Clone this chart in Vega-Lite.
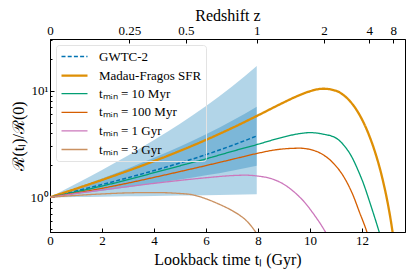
{
  "$schema": "https://vega.github.io/schema/vega-lite/v6.json",
  "width": 355,
  "height": 193,
  "autosize": {"type": "none"},
  "padding": {"left": 50, "top": 39, "right": 10, "bottom": 45},
  "background": "white",
  "datasets": {
    "band": [
      {"t": 0, "olo": 1, "ohi": 1, "ilo": 1, "ihi": 1},
      {"t": 1, "olo": 1.0064, "ohi": 1.3355, "ilo": 1.0718, "ihi": 1.2208},
      {"t": 2, "olo": 1.013, "ohi": 1.8018, "ilo": 1.1515, "ihi": 1.5007},
      {"t": 3, "olo": 1.0201, "ohi": 2.4657, "ilo": 1.2414, "ihi": 1.8631},
      {"t": 4, "olo": 1.0275, "ohi": 3.4345, "ilo": 1.344, "ihi": 2.3414},
      {"t": 5, "olo": 1.0356, "ohi": 4.8933, "ilo": 1.463, "ihi": 2.9887},
      {"t": 6, "olo": 1.0443, "ohi": 7.178, "ilo": 1.6036, "ihi": 3.8922},
      {"t": 7, "olo": 1.0541, "ohi": 10.951, "ilo": 1.7744, "ihi": 5.2087},
      {"t": 7.95, "olo": 1.0644, "ohi": 17.03, "ilo": 1.9725, "ihi": 7.0628}
    ],
    "lines": [
      {"series": "GWTC-2", "t": 0, "r": 1},
      {"series": "GWTC-2", "t": 1, "r": 1.1447},
      {"series": "GWTC-2", "t": 2, "r": 1.3165},
      {"series": "GWTC-2", "t": 3, "r": 1.5241},
      {"series": "GWTC-2", "t": 4, "r": 1.7793},
      {"series": "GWTC-2", "t": 5, "r": 2.0992},
      {"series": "GWTC-2", "t": 6, "r": 2.5105},
      {"series": "GWTC-2", "t": 7, "r": 3.0578},
      {"series": "GWTC-2", "t": 7.95, "r": 3.7578},

      {"series": "Madau-Fragos SFR", "t": 0, "r": 1},
      {"series": "Madau-Fragos SFR", "t": 1, "r": 1.2014},
      {"series": "Madau-Fragos SFR", "t": 2, "r": 1.4524},
      {"series": "Madau-Fragos SFR", "t": 3, "r": 1.771},
      {"series": "Madau-Fragos SFR", "t": 4, "r": 2.1822},
      {"series": "Madau-Fragos SFR", "t": 5, "r": 2.7237},
      {"series": "Madau-Fragos SFR", "t": 6, "r": 3.4529},
      {"series": "Madau-Fragos SFR", "t": 7, "r": 4.4588},
      {"series": "Madau-Fragos SFR", "t": 8, "r": 5.8654},
      {"series": "Madau-Fragos SFR", "t": 9, "r": 7.778},
      {"series": "Madau-Fragos SFR", "t": 9.5, "r": 8.872},
      {"series": "Madau-Fragos SFR", "t": 10, "r": 9.873},
      {"series": "Madau-Fragos SFR", "t": 10.5, "r": 10.42},
      {"series": "Madau-Fragos SFR", "t": 11, "r": 9.97},
      {"series": "Madau-Fragos SFR", "t": 11.25, "r": 9.219},
      {"series": "Madau-Fragos SFR", "t": 11.5, "r": 8.137},
      {"series": "Madau-Fragos SFR", "t": 11.75, "r": 6.804},
      {"series": "Madau-Fragos SFR", "t": 12, "r": 5.347},
      {"series": "Madau-Fragos SFR", "t": 12.25, "r": 3.918},
      {"series": "Madau-Fragos SFR", "t": 12.5, "r": 2.6456},
      {"series": "Madau-Fragos SFR", "t": 12.75, "r": 1.61},
      {"series": "Madau-Fragos SFR", "t": 13, "r": 0.8441},
      {"series": "Madau-Fragos SFR", "t": 13.1, "r": 0.6132},
      {"series": "Madau-Fragos SFR", "t": 13.2, "r": 0.4244},

      {"series": "tₘᵢₙ = 10 Myr", "t": 0, "r": 1},
      {"series": "tₘᵢₙ = 10 Myr", "t": 1, "r": 1.122},
      {"series": "tₘᵢₙ = 10 Myr", "t": 2, "r": 1.274},
      {"series": "tₘᵢₙ = 10 Myr", "t": 3, "r": 1.462},
      {"series": "tₘᵢₙ = 10 Myr", "t": 4, "r": 1.698},
      {"series": "tₘᵢₙ = 10 Myr", "t": 5, "r": 1.972},
      {"series": "tₘᵢₙ = 10 Myr", "t": 6, "r": 2.291},
      {"series": "tₘᵢₙ = 10 Myr", "t": 7, "r": 2.692},
      {"series": "tₘᵢₙ = 10 Myr", "t": 8, "r": 3.141},
      {"series": "tₘᵢₙ = 10 Myr", "t": 8.5, "r": 3.412},
      {"series": "tₘᵢₙ = 10 Myr", "t": 9, "r": 3.681},
      {"series": "tₘᵢₙ = 10 Myr", "t": 9.5, "r": 3.917},
      {"series": "tₘᵢₙ = 10 Myr", "t": 10, "r": 4.036},
      {"series": "tₘᵢₙ = 10 Myr", "t": 10.5, "r": 3.908},
      {"series": "tₘᵢₙ = 10 Myr", "t": 11, "r": 3.589},
      {"series": "tₘᵢₙ = 10 Myr", "t": 11.3, "r": 3.069},
      {"series": "tₘᵢₙ = 10 Myr", "t": 11.6, "r": 2.399},
      {"series": "tₘᵢₙ = 10 Myr", "t": 11.85, "r": 1.778},
      {"series": "tₘᵢₙ = 10 Myr", "t": 12.05, "r": 1.349},
      {"series": "tₘᵢₙ = 10 Myr", "t": 12.3, "r": 0.891},
      {"series": "tₘᵢₙ = 10 Myr", "t": 12.55, "r": 0.575},
      {"series": "tₘᵢₙ = 10 Myr", "t": 12.75, "r": 0.398},

      {"series": "tₘᵢₙ = 100 Myr", "t": 0, "r": 1},
      {"series": "tₘᵢₙ = 100 Myr", "t": 1, "r": 1.096},
      {"series": "tₘᵢₙ = 100 Myr", "t": 2, "r": 1.213},
      {"series": "tₘᵢₙ = 100 Myr", "t": 3, "r": 1.358},
      {"series": "tₘᵢₙ = 100 Myr", "t": 4, "r": 1.535},
      {"series": "tₘᵢₙ = 100 Myr", "t": 5, "r": 1.742},
      {"series": "tₘᵢₙ = 100 Myr", "t": 6, "r": 1.982},
      {"series": "tₘᵢₙ = 100 Myr", "t": 7, "r": 2.265},
      {"series": "tₘᵢₙ = 100 Myr", "t": 8, "r": 2.588},
      {"series": "tₘᵢₙ = 100 Myr", "t": 8.5, "r": 2.742},
      {"series": "tₘᵢₙ = 100 Myr", "t": 9, "r": 2.844},
      {"series": "tₘᵢₙ = 100 Myr", "t": 9.6, "r": 2.884},
      {"series": "tₘᵢₙ = 100 Myr", "t": 10, "r": 2.805},
      {"series": "tₘᵢₙ = 100 Myr", "t": 10.4, "r": 2.588},
      {"series": "tₘᵢₙ = 100 Myr", "t": 10.9, "r": 2.08},
      {"series": "tₘᵢₙ = 100 Myr", "t": 11.3, "r": 1.549},
      {"series": "tₘᵢₙ = 100 Myr", "t": 11.65, "r": 1.047},
      {"series": "tₘᵢₙ = 100 Myr", "t": 11.9, "r": 0.724},
      {"series": "tₘᵢₙ = 100 Myr", "t": 12.15, "r": 0.501},
      {"series": "tₘᵢₙ = 100 Myr", "t": 12.35, "r": 0.355},

      {"series": "tₘᵢₙ = 1 Gyr", "t": 0, "r": 1},
      {"series": "tₘᵢₙ = 1 Gyr", "t": 1, "r": 1.084},
      {"series": "tₘᵢₙ = 1 Gyr", "t": 2, "r": 1.169},
      {"series": "tₘᵢₙ = 1 Gyr", "t": 3, "r": 1.259},
      {"series": "tₘᵢₙ = 1 Gyr", "t": 4, "r": 1.349},
      {"series": "tₘᵢₙ = 1 Gyr", "t": 5, "r": 1.439},
      {"series": "tₘᵢₙ = 1 Gyr", "t": 6, "r": 1.524},
      {"series": "tₘᵢₙ = 1 Gyr", "t": 7, "r": 1.596},
      {"series": "tₘᵢₙ = 1 Gyr", "t": 7.5, "r": 1.611},
      {"series": "tₘᵢₙ = 1 Gyr", "t": 8, "r": 1.578},
      {"series": "tₘᵢₙ = 1 Gyr", "t": 8.5, "r": 1.496},
      {"series": "tₘᵢₙ = 1 Gyr", "t": 9, "r": 1.318},
      {"series": "tₘᵢₙ = 1 Gyr", "t": 9.5, "r": 1.059},
      {"series": "tₘᵢₙ = 1 Gyr", "t": 9.8, "r": 0.891},
      {"series": "tₘᵢₙ = 1 Gyr", "t": 10.1, "r": 0.716},
      {"series": "tₘᵢₙ = 1 Gyr", "t": 10.4, "r": 0.562},
      {"series": "tₘᵢₙ = 1 Gyr", "t": 10.65, "r": 0.447},

      {"series": "tₘᵢₙ = 3 Gyr", "t": 0, "r": 1},
      {"series": "tₘᵢₙ = 3 Gyr", "t": 1, "r": 1.04},
      {"series": "tₘᵢₙ = 3 Gyr", "t": 2, "r": 1.074},
      {"series": "tₘᵢₙ = 3 Gyr", "t": 3, "r": 1.099},
      {"series": "tₘᵢₙ = 3 Gyr", "t": 4, "r": 1.107},
      {"series": "tₘᵢₙ = 3 Gyr", "t": 5, "r": 1.084},
      {"series": "tₘᵢₙ = 3 Gyr", "t": 5.5, "r": 1.052},
      {"series": "tₘᵢₙ = 3 Gyr", "t": 6, "r": 0.966},
      {"series": "tₘᵢₙ = 3 Gyr", "t": 6.5, "r": 0.861},
      {"series": "tₘᵢₙ = 3 Gyr", "t": 7, "r": 0.75},
      {"series": "tₘᵢₙ = 3 Gyr", "t": 7.3, "r": 0.676},
      {"series": "tₘᵢₙ = 3 Gyr", "t": 7.56, "r": 0.6},
      {"series": "tₘᵢₙ = 3 Gyr", "t": 7.8, "r": 0.513},
      {"series": "tₘᵢₙ = 3 Gyr", "t": 8, "r": 0.437}
    ]
  },
  "layer": [
    {
      "data": {"name": "band"},
      "mark": {"type": "area", "color": "#0173b2", "opacity": 0.3, "interpolate": "monotone"},
      "encoding": {
        "x": {"field": "t", "type": "quantitative",
          "scale": {"domain": [0, 13.65], "nice": false, "zero": false},
          "axis": {"orient": "bottom", "values": [0, 2, 4, 6, 8, 10, 12], "format": "d",
            "title": "Lookback time tₗ (Gyr)", "tickSize": -4, "labelPadding": 6,
            "labelFlush": false, "labelOverlap": false, "titleY": 27, "titleBaseline": "middle"}},
        "y": {"field": "olo", "type": "quantitative",
          "scale": {"type": "log", "domain": [0.472, 30.5], "nice": false},
          "axis": {"orient": "left", "values": [1, 10],
            "labelExpr": "datum.value == 1 ? '10⁰' : '10¹'",
            "tickSize": -4, "labelPadding": 6, "title": "ℛ(tₗ)/ℛ(0)",
            "titleX": -32, "titleY": 96.5, "titleBaseline": "middle", "titleAlign": "center"}},
        "y2": {"field": "ohi"}
      }
    },
    {
      "data": {"name": "band"},
      "mark": {"type": "area", "color": "#0173b2", "opacity": 0.3, "interpolate": "monotone"},
      "encoding": {
        "x": {"field": "t", "type": "quantitative",
          "axis": {"orient": "top", "values": [0, 3.05, 5.22, 7.95, 10.54, 12.28, 13.2],
            "labelExpr": "datum.value < 1 ? '0' : datum.value < 4 ? '0.25' : datum.value < 6 ? '0.5' : datum.value < 9 ? '1' : datum.value < 11 ? '2' : datum.value < 12.8 ? '4' : '8'",
            "title": "Redshift z", "tickSize": -4, "labelPadding": 6,
            "labelFlush": false, "labelOverlap": false, "titleY": -24, "titleBaseline": "middle"}},
        "y": {"field": "ilo", "type": "quantitative",
          "axis": {"orient": "left", "values": [0.5, 0.6, 0.7, 0.8, 0.9, 2, 3, 4, 5, 6, 7, 8, 9, 20, 30],
            "labels": false, "tickSize": -2, "title": null, "domain": false}},
        "y2": {"field": "ihi"}
      }
    },
    {
      "data": {"name": "lines"},
      "mark": {"type": "line", "clip": true, "interpolate": "monotone"},
      "encoding": {
        "x": {"field": "t", "type": "quantitative", "axis": null},
        "y": {"field": "r", "type": "quantitative", "axis": null},
        "color": {"field": "series", "type": "nominal",
          "scale": {"domain": ["GWTC-2", "Madau-Fragos SFR", "tₘᵢₙ = 10 Myr", "tₘᵢₙ = 100 Myr", "tₘᵢₙ = 1 Gyr", "tₘᵢₙ = 3 Gyr"],
            "range": ["#0173b2", "#de8f05", "#029e73", "#d55e00", "#cc78bc", "#ca9161"]},
          "legend": {"orient": "none", "legendX": 6, "legendY": 6, "title": null,
            "labelFont": "Liberation Serif", "labelFontSize": 13, "labelFontWeight": "normal", "labelColor": "black",
            "symbolType": "M-2,0L2,0", "symbolSize": 169, "symbolOffset": 6.5,
            "labelOffset": 16.5, "rowPadding": 3.6, "padding": 4}},
        "strokeDash": {"field": "series", "type": "nominal",
          "scale": {"domain": ["GWTC-2", "Madau-Fragos SFR", "tₘᵢₙ = 10 Myr", "tₘᵢₙ = 100 Myr", "tₘᵢₙ = 1 Gyr", "tₘᵢₙ = 3 Gyr"],
            "range": [[4, 2.2], [1, 0], [1, 0], [1, 0], [1, 0], [1, 0]]}},
        "strokeWidth": {"field": "series", "type": "nominal",
          "scale": {"type": "ordinal", "domain": ["GWTC-2", "Madau-Fragos SFR", "tₘᵢₙ = 10 Myr", "tₘᵢₙ = 100 Myr", "tₘᵢₙ = 1 Gyr", "tₘᵢₙ = 3 Gyr"],
            "range": [1.5, 2.3, 1.3, 1.3, 1.3, 1.3]}}
      }
    }
  ],
  "resolve": {"axis": {"x": "independent", "y": "independent"}},
  "config": {
    "font": "Liberation Serif",
    "view": {"stroke": "black", "strokeWidth": 1},
    "axis": {
      "grid": false, "domainColor": "black", "domainWidth": 1, "tickColor": "black", "tickWidth": 1,
      "labelColor": "black", "titleColor": "black",
      "labelFont": "Liberation Serif", "titleFont": "Liberation Serif",
      "labelFontSize": 13, "titleFontSize": 16, "titleFontWeight": "normal"
    },
    "legend": {
      "labelFont": "Liberation Serif", "labelFontSize": 13, "labelColor": "black", "labelLimit": 300,
      "fillColor": "rgba(255,255,255,0)", "strokeColor": "#e3e3e3", "cornerRadius": 3
    }
  }
}
